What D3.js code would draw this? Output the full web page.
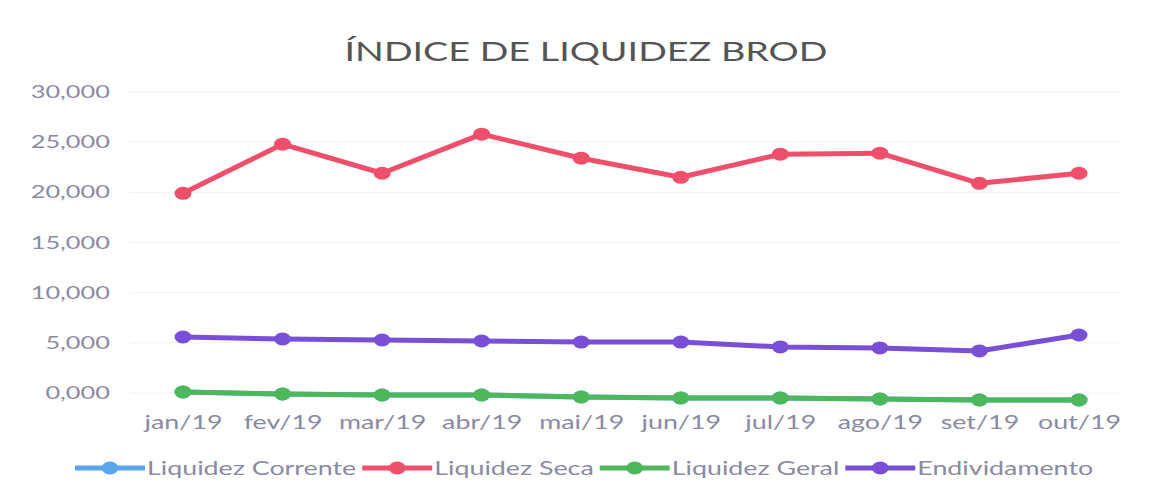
<!DOCTYPE html>
<html>
<head>
<meta charset="utf-8">
<script src="https://cdn.jsdelivr.net/npm/d3@7"></script>
<style>
  body { margin: 0; background: #fff; }
  text { font-family: Lato, "Open Sans", sans-serif; }
</style>
</head>
<body>
<svg id="chart"></svg>
<script>
// data
const months = ["jan/19", "fev/19", "mar/19", "abr/19", "mai/19", "jun/19", "jul/19", "ago/19", "set/19", "out/19"];
const liquidezCorrente = [0.10, -0.10, -0.20, -0.20, -0.40, -0.50, -0.50, -0.60, -0.70, -0.70];
const liquidezSeca = [19.9, 24.8, 21.9, 25.8, 23.4, 21.5, 23.8, 23.9, 20.9, 21.9];
const liquidezGeral = [0.10, -0.10, -0.20, -0.20, -0.40, -0.50, -0.50, -0.60, -0.70, -0.70];
const endividamento = [5.58, 5.38, 5.28, 5.18, 5.08, 5.08, 4.59, 4.49, 4.19, 5.78];
const yTicks = [0, 5, 10, 15, 20, 25, 30];

const series = [
  {name: "Liquidez Corrente", values: liquidezCorrente, color: "#5ba7ee"},
  {name: "Liquidez Seca", values: liquidezSeca, color: "#f04f6c"},
  {name: "Liquidez Geral", values: liquidezGeral, color: "#4db75c"},
  {name: "Endividamento", values: endividamento, color: "#7a4fd8"}
];

const width = 1155, height = 499;
const sx = 1.45; // the picture is stretched sideways, text too
const textColor = "#8a8aa2";

const svg = d3.select("#chart")
  .attr("width", width)
  .attr("height", height);

const x = d3.scalePoint()
  .domain(months)
  .range([183, 1079]);

const y = d3.scaleLinear()
  .domain([0, 30])
  .range([393, 92]);

const fmt = v => d3.format(".3f")(v).replace(".", ",");

// title
svg.append("text")
  .attr("transform", `translate(586,61) scale(${sx},1)`)
  .attr("text-anchor", "middle")
  .style("font-size", "26px")
  .style("fill", "#555")
  .text("ÍNDICE DE LIQUIDEZ BROD");

// faint grid
svg.append("g")
  .selectAll("line")
  .data(yTicks)
  .join("line")
  .attr("x1", 130).attr("x2", 1120)
  .attr("y1", d => y(d)).attr("y2", d => y(d))
  .style("stroke", "#f1f1f3")
  .style("stroke-width", 1);

// y axis labels
const yAxis = svg.append("g")
  .attr("transform", "translate(110,0)")
  .call(d3.axisLeft(y).tickValues(yTicks).tickFormat(fmt).tickSize(0).tickPadding(0));
yAxis.select(".domain").remove();
yAxis.selectAll("text")
  .attr("x", 0)
  .attr("transform", `scale(${sx},1)`)
  .style("font-size", "17.5px")
  .style("fill", textColor);

// x axis labels
const xAxis = svg.append("g")
  .attr("transform", "translate(0,411)")
  .call(d3.axisBottom(x).tickSize(0).tickPadding(0));
xAxis.select(".domain").remove();
xAxis.selectAll("text")
  .attr("y", 0)
  .attr("dy", "1em")
  .attr("transform", `scale(${sx},1)`)
  .style("font-size", "18.5px")
  .style("fill", textColor);

// lines and markers
const line = d3.line()
  .x((d, i) => x(months[i]))
  .y(d => y(d));

series.forEach(s => {
  const g = svg.append("g");
  g.append("path")
    .datum(s.values)
    .attr("d", line)
    .style("fill", "none")
    .style("stroke", s.color)
    .style("stroke-width", 5)
    .style("stroke-linejoin", "round");
  g.selectAll("ellipse")
    .data(s.values)
    .join("ellipse")
    .attr("cx", (d, i) => x(months[i]))
    .attr("cy", d => y(d))
    .attr("rx", 8.5)
    .attr("ry", 6.5)
    .style("fill", s.color);
});

// legend
const legend = svg.append("g").attr("transform", "translate(0,468)");
let lx = 75;
series.forEach(s => {
  const item = legend.append("g");
  item.append("line")
    .attr("x1", lx).attr("x2", lx + 70)
    .attr("y1", 0).attr("y2", 0)
    .style("stroke", s.color)
    .style("stroke-width", 5);
  item.append("ellipse")
    .attr("cx", lx + 35).attr("cy", 0)
    .attr("rx", 8.5).attr("ry", 6.5)
    .style("fill", s.color);
  const t = item.append("text")
    .attr("transform", `translate(${lx + 72},6.5) scale(${sx},1)`)
    .style("font-size", "18.5px")
    .style("fill", textColor)
    .text(s.name);
  lx += 72 + t.node().getComputedTextLength() * sx + 6;
});
</script>
</body>
</html>
